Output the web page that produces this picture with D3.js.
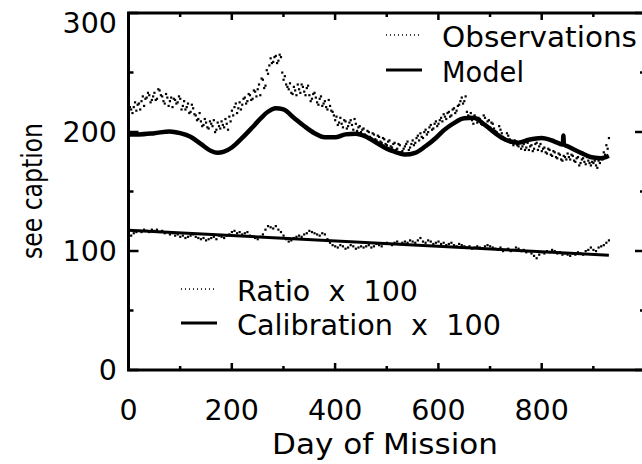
<!DOCTYPE html>
<html><head><meta charset="utf-8">
<script src="https://cdn.jsdelivr.net/npm/d3@7"></script>
<style>
html,body{margin:0;padding:0;background:#fff;}
svg{display:block;}
text{font-family:"DejaVu Sans",sans-serif;fill:#000;}
</style></head>
<body>
<script>
// ---- data ----
const obsStep = 5;
const obsValues = [
 214,219,221,218,224,226,222,229,231,227,
 233,228,235,230,224,229,226,221,227,225,
 228,222,219,224,217,220,214,211,209,206,
 208,203,207,210,202,205,209,204,207,213,
 218,221,216,225,223,229,226,231,228,234,
 236,231,244,239,249,262,259,264,260,263,
 244,240,236,233,238,231,236,240,234,237,
 231,228,233,225,228,222,226,219,222,217,
 210,206,212,204,209,205,210,202,207,204,
 200,203,197,200,195,198,193,196,191,194,
 189,193,187,191,186,189,184,188,192,187,
 193,191,197,199,195,202,200,206,203,209,
 207,212,215,211,217,214,220,218,223,229,
 226,217,213,210,214,208,211,206,212,209,
 204,207,201,198,202,196,193,197,191,189,
 192,188,186,190,187,185,189,186,191,188,
 184,187,182,185,180,183,178,181,176,179,
 182,177,180,175,179,174,178,173,176,172,
 174,172,176,179,183,189,195
];
// second sample of observations, half a step later
const obsValues2 = [
 221,216,225,223,219,230,228,233,225,230,
 227,236,231,226,232,222,229,228,224,230,
 219,226,221,216,223,215,210,216,205,211,
 204,209,205,200,208,203,206,211,202,209,
 214,224,220,219,228,224,232,227,235,230,
 240,245,237,252,256,258,263,258,265,250,
 247,238,241,232,235,240,233,238,231,239,
 226,232,229,223,230,224,221,227,218,214,
 213,208,207,210,203,208,206,211,201,205,
 202,198,201,196,199,194,197,192,195,190,
 192,188,190,185,190,183,186,190,185,190,
 189,195,193,196,200,198,204,202,207,205,
 210,209,213,216,213,219,216,222,226,224,
 230,214,216,207,211,212,207,214,205,210,
 208,203,200,205,199,195,199,194,192,193,
 189,191,188,185,191,188,184,190,185,190,
 186,183,186,181,184,179,182,177,180,177,
 179,181,176,178,172,177,175,179,174,175,
 176,170,174,177,181,186
];
const ratioValues = [
 110,113,115,116,117,116,118,117,116,118,
 117,118,116,117,115,116,114,115,113,114,
 112,113,111,112,113,114,112,111,110,111,
 109,110,111,112,110,113,112,111,113,114,
 116,117,115,116,114,115,116,113,112,111,
 110,112,114,118,121,120,119,121,118,116,
 113,110,108,109,111,112,113,112,114,115,
 117,116,115,114,113,115,114,110,107,105,
 104,103,105,104,102,103,105,104,102,103,
 104,103,104,105,103,104,106,105,104,106,
 107,106,105,107,108,106,107,108,107,109,
 108,107,109,111,108,107,109,108,106,107,
 108,106,107,105,106,107,105,104,106,105,
 104,103,104,102,103,104,103,102,104,105,
 104,103,102,101,103,100,101,102,100,101,
 103,102,100,101,99,100,98,96,94,97,
 99,98,100,99,101,100,98,99,97,98,
 97,96,98,97,99,98,97,100,101,103,
 101,100,103,104,105,107,109
];
const modelDays   = [0,20,50,80,100,120,140,160,172,185,200,220,240,255,270,285,300,320,340,360,380,400,420,440,460,480,500,515,535,555,575,595,612,630,650,668,690,710,730,755,775,800,825,840,841,842,843,850,876,900,915,930];
const modelValues = [198,198,199,200.5,199,196,190,184,182.5,183.5,187,195,204,211,217,220,219,212,205,199,195.5,195.5,198,198.5,196,191,186,183.5,181,182.5,188,195,202,207.5,211.5,212,206,199,193.5,191,193.5,195,192,189.5,189.5,197,189.5,188,182.5,178.5,178,180];
const calibDays   = [0,930];
const calibValues = [117.5,96.5];
const xTicks = [0,200,400,600,800];
const yTicks = [0,100,200,300];
const legendTop = ["Observations","Model"];
const legendBottom = ["Ratio  x  100","Calibration  x  100"];

const W = 642, H = 464;
const m = {left:128.5, top:13, right:645, bottom:370};
const x = d3.scaleLinear().domain([0,1000]).range([m.left, m.right]);
const y = d3.scaleLinear().domain([0,300]).range([m.bottom, m.top]);

const svg = d3.select("body").append("svg").attr("width",W).attr("height",H);

const obs = obsValues.map((v,i)=>[i*obsStep, v])
  .concat(obsValues2.map((v,i)=>[i*obsStep+obsStep/2, v]));
const ratio = ratioValues.map((v,i)=>[i*obsStep, v]);
const model = modelDays.map((d,i)=>[d, modelValues[i]]);
const calib = calibDays.map((d,i)=>[d, calibValues[i]]);

const line = d3.line().x(d=>x(d[0])).y(d=>y(d[1])).curve(d3.curveMonotoneX);

svg.append("g").selectAll("rect").data(obs.concat(ratio)).join("rect")
  .attr("x",d=>x(d[0])-1).attr("y",d=>y(d[1])-1).attr("width",2.2).attr("height",2.2).attr("fill","#000");

svg.append("path").datum(model).attr("d",line).attr("fill","none").attr("stroke","#000").attr("stroke-width",4.5);
svg.append("path").datum(calib).attr("d",d3.line().x(d=>x(d[0])).y(d=>y(d[1]))).attr("fill","none").attr("stroke","#000").attr("stroke-width",3);

const ax = svg.append("g");
ax.append("rect").attr("x",m.left).attr("y",m.top).attr("width",m.right-m.left).attr("height",m.bottom-m.top)
  .attr("fill","none").attr("stroke","#000").attr("stroke-width",3);

const xMinor = d3.range(100,1000,200), yMinor = d3.range(50,300,100);
const tk = ax.append("g").attr("stroke","#000").attr("stroke-width",2.5);
xTicks.concat([1000]).forEach(v=>{
  tk.append("line").attr("x1",x(v)).attr("x2",x(v)).attr("y1",m.bottom).attr("y2",m.bottom-7);
  tk.append("line").attr("x1",x(v)).attr("x2",x(v)).attr("y1",m.top).attr("y2",m.top+7);
});
xMinor.forEach(v=>{
  tk.append("line").attr("x1",x(v)).attr("x2",x(v)).attr("y1",m.bottom).attr("y2",m.bottom-4);
  tk.append("line").attr("x1",x(v)).attr("x2",x(v)).attr("y1",m.top).attr("y2",m.top+4);
});
yTicks.forEach(v=>{
  tk.append("line").attr("y1",y(v)).attr("y2",y(v)).attr("x1",m.left).attr("x2",m.left+10);
  tk.append("line").attr("y1",y(v)).attr("y2",y(v)).attr("x1",m.right).attr("x2",m.right-10);
});
yMinor.forEach(v=>{
  tk.append("line").attr("y1",y(v)).attr("y2",y(v)).attr("x1",m.left).attr("x2",m.left+5);
  tk.append("line").attr("y1",y(v)).attr("y2",y(v)).attr("x1",m.right).attr("x2",m.right-5);
});

const fs = 28.5;
ax.append("g").selectAll("text").data(xTicks).join("text")
  .attr("x",d=>x(d)).attr("y",420).attr("text-anchor","middle").attr("font-size",fs).text(d=>d);
ax.append("g").selectAll("text").data(yTicks).join("text")
  .attr("x",117).attr("y",d=>y(d)+10+(d===300?10:0)).attr("text-anchor","end").attr("font-size",fs).text(d=>d);

svg.append("text").attr("x",272).attr("y",454).attr("font-size",27.5)
  .attr("textLength",226).attr("lengthAdjust","spacingAndGlyphs").text("Day of Mission");
svg.append("text").attr("transform",`translate(42,259) rotate(-90)`).attr("font-size",27.5)
  .attr("textLength",136).attr("lengthAdjust","spacingAndGlyphs").text("see caption");

function legend(items, x0, ys, lens){
  items.forEach((t,i)=>{
    const g = svg.append("g");
    g.append("line").attr("x1",x0).attr("x2",x0+36).attr("y1",ys[i]-12).attr("y2",ys[i]-12)
     .attr("stroke","#000").attr("stroke-width", i===0?1.5:3).attr("stroke-dasharray", i===0?"1,3":null);
    g.append("text").attr("x",x0+56).attr("y",ys[i]).attr("font-size",fs).style("white-space","pre")
     .attr("textLength",lens[i]).attr("lengthAdjust","spacingAndGlyphs").text(t);
  });
}
legend(legendTop, 386, [47,82], [195,82]);
legend(legendBottom, 181, [301,335], [181,264]);
</script>
</body></html>
